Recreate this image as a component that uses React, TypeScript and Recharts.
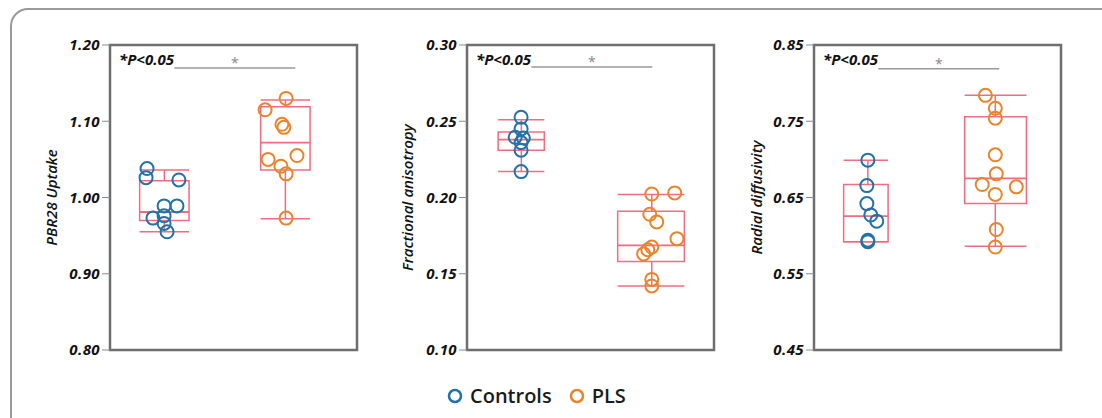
import React from "react";
import {
  ComposedChart,
  Scatter,
  XAxis,
  YAxis,
  ReferenceArea,
  ReferenceLine,
  Legend,
} from "recharts";

const FONT = "'Open Sans', sans-serif";
const BLUE = "#2272a6";
const ORANGE = "#e8852c";
const BOX = "#f06c82";
const FRAME = "#6e6e6e";

const GROUPS = ["Controls", "PLS"];

// PBR28 uptake
const PBR_CONTROLS = [1.038, 1.026, 1.023, 0.989, 0.989, 0.973, 0.976, 0.966, 0.955];
const PBR_CONTROLS_X = [15, 14.6, 27.9, 21.9, 27.1, 17.4, 21.9, 21.9, 23.1];
const PBR_PLS = [1.13, 1.115, 1.096, 1.092, 1.05, 1.055, 1.041, 1.031, 0.973];
const PBR_PLS_X = [71.3, 62.8, 69.6, 70.4, 64, 75.7, 69.2, 71.3, 71.3];
// [low whisker, q1, median, q3, high whisker]
const PBR_CONTROLS_BOX = [0.955, 0.97, 0.981, 1.022, 1.036];
const PBR_PLS_BOX = [0.972, 1.036, 1.072, 1.119, 1.128];
const PBR_TICKS = [0.8, 0.9, 1.0, 1.1, 1.2];

// Fractional anisotropy
const FA_CONTROLS = [0.2526, 0.245, 0.2395, 0.239, 0.236, 0.231, 0.217];
const FA_CONTROLS_X = [21.9, 21.9, 19.5, 22.8, 21.9, 21.9, 21.9];
const FA_PLS = [0.2023, 0.203, 0.189, 0.184, 0.173, 0.1675, 0.1657, 0.163, 0.1463, 0.142];
const FA_PLS_X = [74.8, 84.1, 74, 76.8, 85, 74.8, 73.2, 71.5, 74.8, 74.8];
const FA_CONTROLS_BOX = [0.217, 0.231, 0.238, 0.243, 0.251];
const FA_PLS_BOX = [0.142, 0.158, 0.1686, 0.191, 0.202];
const FA_TICKS = [0.1, 0.15, 0.2, 0.25, 0.3];

// Radial diffusivity
const RD_CONTROLS = [0.699, 0.6656, 0.642, 0.627, 0.619, 0.594, 0.592];
const RD_CONTROLS_X = [21.8, 21.4, 21.4, 23, 25.4, 21.8, 21.8];
const RD_PLS = [0.784, 0.767, 0.754, 0.706, 0.681, 0.667, 0.664, 0.654, 0.608, 0.585];
const RD_PLS_X = [69.4, 73.4, 73.4, 73.4, 73.8, 68.1, 81.9, 73.4, 73.8, 73.4];
const RD_CONTROLS_BOX = [0.592, 0.592, 0.6256, 0.667, 0.699];
const RD_PLS_BOX = [0.586, 0.642, 0.675, 0.756, 0.784];
const RD_TICKS = [0.45, 0.55, 0.65, 0.75, 0.85];

// box x-extent per group [left, center, right] on a 0-100 axis
const PBR_BOX_X = [[12, 22, 32], [61, 71, 81]];
const FA_BOX_X = [[12.6, 22, 31.3], [61, 74.8, 88]];
const RD_BOX_X = [[12, 21.8, 30], [61, 73.4, 86]];

const SIG_Y = [1.17, 0.2856, 0.819];
const SIG_X = [26, 75];

const AXIS_W = 80;

const toPoints = (xs: number[], ys: number[]) => ys.map((y, i) => ({ x: xs[i], y }));

function boxParts(stats: number[], bx: number[], key: string) {
  const [lo, q1, med, q3, hi] = stats;
  const [l, c, r] = bx;
  const seg = (a: number, b: number, ya: number, yb: number, k: string, w = 1.5) => (
    <ReferenceLine
      key={key + k}
      segment={[{ x: a, y: ya }, { x: b, y: yb }]}
      stroke={BOX}
      strokeWidth={w}
    />
  );
  return [
    <ReferenceArea
      key={key + "box"}
      x1={l}
      x2={r}
      y1={q1}
      y2={q3}
      fill="none"
      fillOpacity={0}
      stroke={BOX}
      strokeWidth={1.5}
    />,
    seg(l, r, med, med, "med", 1.8),
    seg(c, c, q3, hi, "wh"),
    seg(c, c, lo, q1, "wl"),
    seg(l, r, hi, hi, "ch"),
    seg(l, r, lo, lo, "cl"),
  ];
}

const ring = (color: string) => (props: any) => (
  <circle cx={props.cx} cy={props.cy} r={6.5} fill="none" stroke={color} strokeWidth={2} />
);

interface PanelProps {
  plotLeft: number;
  label: string;
  labelX: number;
  ticks: number[];
  controls: { x: number; y: number }[];
  pls: { x: number; y: number }[];
  controlsBox: number[];
  plsBox: number[];
  boxX: number[][];
  sigY: number;
  legend?: boolean;
}

function Panel(p: PanelProps) {
  const lo = p.ticks[0];
  const hi = p.ticks[p.ticks.length - 1];
  const left = p.plotLeft - AXIS_W;
  return (
    <div style={{ position: "absolute", left, top: 0 }}>
      <ComposedChart
        width={AXIS_W + 253}
        height={418}
        margin={{ top: 45, right: 6, bottom: 68, left: 0 }}
      >
        <XAxis type="number" dataKey="x" domain={[0, 100]} hide />
        <YAxis
          type="number"
          dataKey="y"
          domain={[lo, hi]}
          ticks={p.ticks}
          width={AXIS_W}
          axisLine={false}
          tickSize={8}
          tickLine={{ stroke: "#8a8a8a" }}
          tickFormatter={(v: number) => v.toFixed(2)}
          tick={{
            fill: "#111",
            fontSize: 15,
            fontWeight: 700,
            fontStyle: "italic",
            fontFamily: FONT,
            letterSpacing: 0.4,
          }}
          label={{
            value: p.label,
            angle: -90,
            position: "insideLeft",
            offset: p.labelX - left,
            style: {
              textAnchor: "middle",
              fontSize: 15,
              fontWeight: 600,
              fontStyle: "italic",
              fontFamily: FONT,
              fill: "#111",
            },
          }}
        />
        <ReferenceArea
          x1={0}
          x2={100}
          y1={lo}
          y2={hi}
          fill="none"
          fillOpacity={0}
          stroke={FRAME}
          strokeWidth={2.5}
          label={{
            value: "*P<0.05",
            position: "insideTopLeft",
            offset: 9,
            style: {
              fontSize: 15,
              fontWeight: 700,
              fontStyle: "italic",
              fontFamily: FONT,
              fill: "#111",
            },
          }}
        />
        <ReferenceLine
          segment={[
            { x: SIG_X[0], y: p.sigY },
            { x: SIG_X[1], y: p.sigY },
          ]}
          stroke="#9a9a9a"
          strokeWidth={1.5}
          label={{
            value: "*",
            position: "top",
            offset: 0,
            style: { fontSize: 14, fill: "#888", fontFamily: FONT },
          }}
        />
        {boxParts(p.controlsBox, p.boxX[0], "c")}
        {boxParts(p.plsBox, p.boxX[1], "p")}
        <Scatter
          name={GROUPS[0]}
          data={p.controls}
          fill={BLUE}
          shape={ring(BLUE)}
          isAnimationActive={false}
        />
        <Scatter
          name={GROUPS[1]}
          data={p.pls}
          fill={ORANGE}
          shape={ring(ORANGE)}
          isAnimationActive={false}
        />
        {p.legend && (
          <Legend
            layout="horizontal"
            verticalAlign="middle"
            align="center"
            wrapperStyle={{ position: "absolute", left: 447 - left, top: 382, width: 260 }}
            content={(props: any) => (
              <div style={{ display: "flex", alignItems: "center", fontFamily: FONT }}>
                {(props.payload || []).map((e: any) => {
                  const c = e.value === GROUPS[0] ? BLUE : ORANGE;
                  return (
                    <div
                      key={e.value}
                      style={{ display: "flex", alignItems: "center", marginRight: 17 }}
                    >
                      <svg width={16} height={16} style={{ marginRight: 7 }}>
                        <circle cx={8} cy={8} r={6} fill="none" stroke={c} strokeWidth={2.5} />
                      </svg>
                      <span style={{ fontSize: 20, fontWeight: 600, color: "#1a1a1a" }}>
                        {e.value}
                      </span>
                    </div>
                  );
                })}
              </div>
            )}
          />
        )}
      </ComposedChart>
    </div>
  );
}

export default function App() {
  return (
    <div
      style={{
        position: "absolute",
        left: 0,
        top: 0,
        width: 1102,
        height: 418,
        background: "#fff",
        overflow: "hidden",
      }}
    >
      <div
        style={{
          position: "absolute",
          left: 10,
          top: 8,
          width: 1110,
          height: 430,
          border: "2px solid #9a9a9a",
          borderRadius: 18,
        }}
      />
      <Panel
        plotLeft={110}
        label="PBR28 Uptake"
        labelX={52}
        ticks={PBR_TICKS}
        controls={toPoints(PBR_CONTROLS_X, PBR_CONTROLS)}
        pls={toPoints(PBR_PLS_X, PBR_PLS)}
        controlsBox={PBR_CONTROLS_BOX}
        plsBox={PBR_PLS_BOX}
        boxX={PBR_BOX_X}
        sigY={SIG_Y[0]}
      />
      <Panel
        plotLeft={467}
        label="Fractional anisotropy"
        labelX={408}
        ticks={FA_TICKS}
        controls={toPoints(FA_CONTROLS_X, FA_CONTROLS)}
        pls={toPoints(FA_PLS_X, FA_PLS)}
        controlsBox={FA_CONTROLS_BOX}
        plsBox={FA_PLS_BOX}
        boxX={FA_BOX_X}
        sigY={SIG_Y[1]}
        legend
      />
      <Panel
        plotLeft={814}
        label="Radial diffusivity"
        labelX={757}
        ticks={RD_TICKS}
        controls={toPoints(RD_CONTROLS_X, RD_CONTROLS)}
        pls={toPoints(RD_PLS_X, RD_PLS)}
        controlsBox={RD_CONTROLS_BOX}
        plsBox={RD_PLS_BOX}
        boxX={RD_BOX_X}
        sigY={SIG_Y[2]}
      />
    </div>
  );
}
